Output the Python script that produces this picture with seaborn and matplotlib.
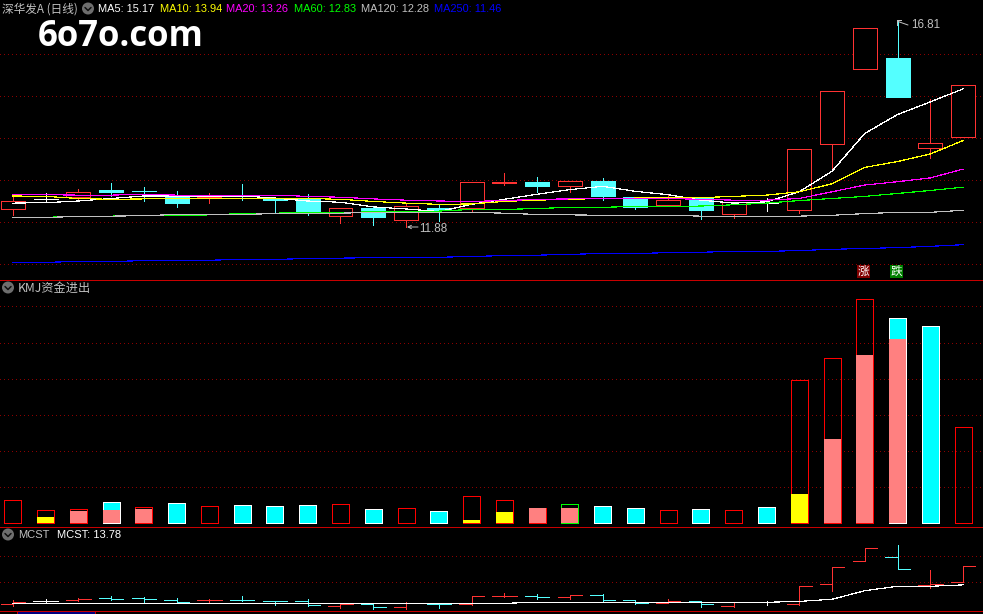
"""Candlestick screen with MA lines, KMJ fund bars and MCST panel."""

import numpy as np
import pandas as pd
import matplotlib
matplotlib.use("Agg")
import matplotlib.pyplot as plt
from matplotlib.patches import Circle, Rectangle
import seaborn as sns

W, H = 983, 614

# Candles
opens = [12.31, 12.54, 12.59, 12.76, 12.74, 12.59, 12.59, 12.62, 12.54, 12.55,
         12.14, 12.33, 12.04, 12.33, 12.33, 12.93, 12.95, 12.85, 12.98, 12.59,
         12.40, 12.57, 12.18, 12.46, 12.28, 13.85, 15.64, 15.90, 13.76, 14.02]
closes = [12.49, 12.54, 12.71, 12.71, 12.73, 12.45, 12.64, 12.61, 12.53, 12.26,
          12.33, 12.11, 12.38, 12.28, 12.95, 12.95, 12.85, 12.98, 12.61, 12.35,
          12.52, 12.28, 12.47, 12.46, 13.73, 15.12, 16.62, 14.97, 13.88, 15.26]
highs = [12.64, 12.69, 12.79, 12.93, 12.83, 12.74, 12.69, 12.91, 12.55, 12.67,
         12.33, 12.36, 12.45, 12.40, 12.95, 13.17, 13.07, 12.98, 13.05, 12.59,
         12.67, 12.57, 12.47, 12.57, 13.73, 15.12, 16.62, 16.81, 14.93, 15.26]
lows = [12.16, 12.47, 12.52, 12.62, 12.50, 12.36, 12.45, 12.52, 12.21, 12.16,
        11.97, 11.92, 11.88, 12.02, 12.24, 12.88, 12.71, 12.71, 12.52, 12.31,
        12.40, 12.07, 12.09, 12.26, 12.21, 13.28, 15.64, 14.97, 13.52, 14.02]

# Moving averages
ma5 = [12.45, 12.46, 12.50, 12.56, 12.62, 12.62, 12.62, 12.62, 12.57, 12.50,
       12.47, 12.36, 12.31, 12.25, 12.42, 12.54, 12.66, 12.77, 12.85, 12.73,
       12.65, 12.52, 12.45, 12.48, 12.72, 13.21, 14.11, 14.56, 14.86, 15.17]
ma10 = [12.62, 12.61, 12.56, 12.54, 12.55, 12.55, 12.56, 12.56, 12.56, 12.56,
        12.54, 12.49, 12.45, 12.42, 12.43, 12.49, 12.52, 12.54, 12.56, 12.57,
        12.58, 12.58, 12.61, 12.64, 12.72, 12.91, 13.30, 13.44, 13.62, 13.94]
ma20 = [12.66, 12.65, 12.64, 12.64, 12.66, 12.64, 12.64, 12.64, 12.64, 12.61,
        12.59, 12.55, 12.52, 12.50, 12.49, 12.51, 12.54, 12.55, 12.56, 12.56,
        12.56, 12.54, 12.52, 12.52, 12.56, 12.72, 12.88, 12.96, 13.05, 13.26]
ma60 = [12.11, 12.11, 12.14, 12.14, 12.16, 12.15, 12.17, 12.20, 12.21, 12.23,
        12.23, 12.24, 12.26, 12.26, 12.30, 12.30, 12.32, 12.35, 12.35, 12.37,
        12.37, 12.38, 12.41, 12.45, 12.51, 12.56, 12.61, 12.68, 12.75, 12.83]
ma120 = [12.11, 12.11, 12.13, 12.14, 12.15, 12.18, 12.18, 12.18, 12.20, 12.21,
         12.21, 12.23, 12.23, 12.23, 12.23, 12.21, 12.18, 12.17, 12.16, 12.16,
         12.16, 12.14, 12.14, 12.14, 12.14, 12.16, 12.20, 12.23, 12.23, 12.28]
ma250 = [11.04, 11.04, 11.06, 11.06, 11.08, 11.09, 11.09, 11.11, 11.11, 11.13,
         11.14, 11.15, 11.16, 11.16, 11.18, 11.20, 11.21, 11.23, 11.25, 11.25,
         11.27, 11.28, 11.30, 11.30, 11.32, 11.35, 11.37, 11.39, 11.42, 11.46]
ma_colors = ["#FFFFFF", "#FFFF00", "#FF00FF", "#00FF00", "#C0C0C0", "#0000FF"]
ma_labels = ["MA5: 15.17", "MA10: 13.94", "MA20: 13.26",
             "MA60: 12.83", "MA120: 12.28", "MA250: 11.46"]

# KMJ bars: outline/tall part, and the part filled from the bottom
kmj_total = [0.62, 0.34, 0.37, 0.57, 0.42, 0.54, 0.45, 0.49, 0.46, 0.49,
             0.51, 0.375, 0.39, 0.32, 0.73, 0.62, 0.40, 0.51, 0.46, 0.40,
             0.34, 0.375, 0.34, 0.43, 3.95, 4.56, 6.20, 5.68, 5.46, 2.64]
kmj_kind = ["r", "r", "r", "c", "r", "c", "r", "c", "c", "c",
            "r", "c", "r", "c", "r", "r", "r", "g", "c", "c",
            "r", "c", "r", "c", "r", "r", "r", "c", "c", "r"]
kmj_inner = [0, 0.15, 0.32, 0.35, 0.375, 0, 0, 0, 0, 0,
             0, 0, 0, 0, 0.07, 0.29, 0.40, 0.40, 0, 0,
             0, 0, 0, 0, 0.79, 2.32, 4.65, 5.11, 0, 0]
kmj_inner_kind = ["", "y", "p", "p", "p", "", "", "", "", "",
                  "", "", "", "", "y", "y", "p", "p", "", "",
                  "", "", "", "", "y", "p", "p", "p", "", ""]

mcst = [12.36, 12.36, 12.36, 12.36, 12.36, 12.36, 12.36, 12.36, 12.36, 12.36,
        12.36, 12.36, 12.36, 12.36, 12.36, 12.36, 12.44, 12.44, 12.44, 12.44,
        12.44, 12.44, 12.44, 12.44, 12.51, 12.67, 13.33, 13.67, 13.67, 13.78]

price_grid = [16, 15, 14, 13, 12, 11]
kmj_grid = [1, 2, 3, 4, 5, 6]
mcst_grid = [16, 14]

RED = "#FF3232"
CYAN = "#54FFFF"
GRID = "#8C0000"
LINE = "#C80000"
GRAY = "#C0C0C0"
PX = 0.72
THIN = 0.1
CJK = ["Noto Sans CJK SC", "DejaVu Sans"]

sns.set_theme(style="dark", rc={"figure.facecolor": "black", "axes.facecolor": "black",
                                "savefig.facecolor": "black"})
plt.rcParams["font.family"] = ["Liberation Sans", "DejaVu Sans"]

x = np.arange(len(opens))
xlim = (-12.8 / 32.77, (W - 12.8) / 32.77)


def panel(fig, top, bottom):
    ax = fig.add_axes([0, 1 - bottom / H, 1, (bottom - top) / H])
    ax.set_xlim(*xlim)
    for s in ax.spines.values():
        s.set_visible(False)
    return ax


def dotted(ax, levels):
    for lv in levels:
        ax.axhline(lv, color=GRID, lw=PX, ls=(0, (1, 3)), antialiased=False, zorder=0)


def candle_color(o, c):
    if c > o:
        return RED
    if c < o:
        return CYAN
    return "#FFFFFF"


def draw_candles(ax):
    colors = [candle_color(o, c) for o, c in zip(opens, closes)]
    tops = np.maximum(opens, closes)
    bots = np.minimum(opens, closes)
    ax.vlines(x, tops, highs, colors=colors, lw=PX, antialiased=False, zorder=2)
    ax.vlines(x, lows, bots, colors=colors, lw=PX, antialiased=False, zorder=2)
    faces = ["black" if c == RED else c for c in colors]
    ax.bar(x, tops - bots, bottom=bots, width=0.73, color=faces, edgecolor=colors,
           linewidth=PX, antialiased=False, zorder=2)


def draw_mas(ax):
    frame = pd.DataFrame({"x": x, "MA5": ma5, "MA10": ma10, "MA20": ma20,
                          "MA60": ma60, "MA120": ma120, "MA250": ma250})
    for name, col in zip(frame.columns[1:], ma_colors):
        sns.lineplot(data=frame, x="x", y=name, color=col, linewidth=THIN, errorbar=None,
                     antialiased=False, ax=ax, zorder=3)


def draw_kmj(ax):
    frame = pd.DataFrame({"x": x, "total": kmj_total, "kind": kmj_kind,
                          "inner": kmj_inner, "inner_kind": kmj_inner_kind})
    for kind, col, fill in [("r", "#FF0000", False), ("g", "#00FF00", False),
                            ("c", "#00FFFF", True)]:
        sub = frame[frame["kind"] == kind]
        sns.barplot(data=sub, x="x", y="total", native_scale=True, width=0.52,
                    color=col, fill=fill, saturation=1, linewidth=PX, errorbar=None,
                    ax=ax, zorder=2)
    for kind, col in [("y", "#FFFF00"), ("p", "#FF8080")]:
        sub = frame[frame["inner_kind"] == kind]
        sns.barplot(data=sub, x="x", y="inner", native_scale=True, width=0.52,
                    color=col, saturation=1, linewidth=0, errorbar=None,
                    ax=ax, zorder=3)
    for p in ax.patches:
        p.set_antialiased(False)


def draw_mcst(ax):
    colors = [candle_color(o, c) for o, c in zip(opens, closes)]
    ax.vlines(x, lows, highs, colors=colors, lw=PX, antialiased=False, zorder=2)
    ax.hlines(opens, x - 0.375, x, colors=colors, lw=PX, antialiased=False, zorder=2)
    ax.hlines(closes, x, x + 0.375, colors=colors, lw=PX, antialiased=False, zorder=2)
    sns.lineplot(x=x, y=mcst, color="#FFFFFF", linewidth=THIN, errorbar=None,
                 antialiased=False, ax=ax, zorder=3)


def icon(ov, cx, cy):
    ov.add_patch(Circle((cx, cy), 6, color="#6E6E6E", lw=0))
    ov.plot([cx - 3, cx, cx + 3], [cy - 1, cy + 2, cy - 1], color="#111111", lw=1.1)


def main():
    fig = plt.figure(figsize=(W / 100, H / 100), dpi=100)

    ax1 = panel(fig, 0, 279.5)
    dotted(ax1, price_grid)
    draw_candles(ax1)
    draw_mas(ax1)
    ax1.set_ylim(12 + (222 - 279.5) / 42, 12 + 222 / 42)

    ax2 = panel(fig, 280, 526)
    dotted(ax2, kmj_grid)
    draw_kmj(ax2)
    ax2.set_ylim(-3.5 / 36, 242.5 / 36)

    ax3 = panel(fig, 527, 610)
    dotted(ax3, mcst_grid)
    draw_mcst(ax3)
    ax3.set_ylim(12 - 2 / 13, 16 + 29 / 13)

    for ax in (ax1, ax2, ax3):
        ax.set_xlim(*xlim)
        ax.set_xticks([])
        ax.set_yticks([])
        ax.set_xlabel("")
        ax.set_ylabel("")

    # Overlay in screen pixels for separators, captions and badges
    ov = fig.add_axes([0, 0, 1, 1], zorder=10)
    ov.set_xlim(0, W)
    ov.set_ylim(H, 0)
    ov.axis("off")
    ov.patch.set_alpha(0)
    for y in (279.5, 526.5, 610.5):
        ov.plot([0, W], [y, y], color=LINE, lw=PX, antialiased=False)
    ov.add_patch(Rectangle((16.5, 611), 78, 4, fc="#000080", ec="#C00000", lw=PX))

    ov.text(2, 9, "深华发A (日线)", color=GRAY, fontsize=8.4, family=CJK, va="center")
    icon(ov, 88, 8.5)
    for label, col, lx in zip(ma_labels, ma_colors, [98.5, 159.5, 226, 294, 361, 434.5]):
        ov.text(lx, 9, label, color=col, fontsize=7.9, va="center")

    ov.text(38, 46.5, "6o7o.com", color="white", fontsize=25, family="Open Sans",
            fontweight="bold", va="baseline")

    ov.annotate("", xy=(407, 227), xytext=(418, 227),
                arrowprops=dict(arrowstyle="->", color=GRAY, lw=0.7, mutation_scale=6,
                                shrinkA=0, shrinkB=0))
    ov.text(419, 229, f"{min(lows):.2f}", color=GRAY, fontsize=8.4, va="center")
    ov.plot([897, 897, 901], [25, 20, 20], color=GRAY, lw=PX, antialiased=False)
    ov.plot([898, 908], [21.5, 25], color=GRAY, lw=PX)
    ov.text(911, 25.5, f"{max(highs):.2f}", color=GRAY, fontsize=8.4, va="center")

    for lx, txt, col, tc in [(857, "涨", "#800000", "#FFFFFF"), (890, "跌", "#008000", "#FFFFFF")]:
        ov.add_patch(Rectangle((lx, 265), 13, 13, fc=col, lw=0))
        ov.text(lx + 6.5, 271.5, txt, color=tc, fontsize=8.4, family=CJK,
                ha="center", va="center")

    icon(ov, 8, 287.5)
    ov.text(18, 288, "KMJ资金进出", color=GRAY, fontsize=8.8, family=CJK, va="center")
    icon(ov, 8, 534.5)
    ov.text(18, 535, "MCST", color=GRAY, fontsize=8, va="center")
    ov.text(57, 535, f"MCST: {mcst[-1]:.2f}", color="white", fontsize=8, va="center")

    fig.savefig("out.png", dpi=100, facecolor="black")
    plt.close(fig)


if __name__ == "__main__":
    main()
